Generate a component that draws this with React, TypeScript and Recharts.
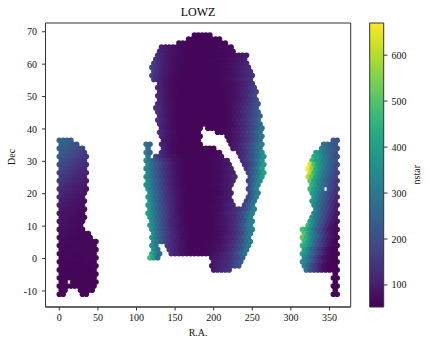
import { Bar, BarChart, ReferenceArea, Scatter, ScatterChart, XAxis, YAxis } from 'recharts'

const FONT = '"Liberation Serif", serif'
const INK = '#111'
const FRAME = '#333'
const RA_STEP = 5

const raTicks = [0, 50, 100, 150, 200, 250, 300, 350]
const decTicks = [-10, 0, 10, 20, 30, 40, 50, 60, 70]
const barTicks = [100, 200, 300, 400, 500, 600]

const decRows = [
  69, 67.75, 66.5, 65.25, 64, 62.75, 61.5, 60.25, 59, 57.75, 56.5, 55.25, 54, 52.75, 51.5, 50.25,
  49, 47.75, 46.5, 45.25, 44, 42.75, 41.5, 40.25, 39, 37.75, 36.5, 35.25, 34, 32.75, 31.5, 30.25,
  29, 27.75, 26.5, 25.25, 24, 22.75, 21.5, 20.25, 19, 17.75, 16.5, 15.25, 14, 12.75, 11.5, 10.25,
  9, 7.75, 6.5, 5.25, 4, 2.75, 1.5, 0.25, -1, -2.25, -3.5, -4.75, -6, -7.25, -8.5, -9.75, -11,
]

// 0 marks a spot with no pixel. Each row starts at decRows[firstRow + row index]
const mainFirstRow = 0
const mainStarts = [
  175, 167.5, 155, 132.5, 130, 127.5, 125, 122.5, 120, 122.5, 120, 122.5, 130, 127.5, 130, 127.5,
  130, 127.5, 125, 127.5, 130, 127.5, 130, 132.5, 130, 132.5, 135, 112.5, 115, 112.5, 115, 112.5,
  115, 112.5, 115, 112.5, 115, 112.5, 115, 117.5, 115, 117.5, 115, 117.5, 115, 117.5, 120, 117.5,
  120, 122.5, 120, 122.5, 120, 122.5, 120, 117.5, 200, 197.5, 200,
]
const mainNstar = [
  [62, 60, 60, 60, 62],
  [64, 62, 60, 60, 60, 60, 60, 62, 64],
  [68, 66, 64, 62, 60, 60, 60, 60, 60, 62, 62, 64, 66],
  [105, 95, 85, 78, 74, 70, 66, 64, 62, 60, 60, 60, 60, 60, 62, 64, 66, 68, 70],
  [120, 105, 92, 84, 78, 72, 68, 64, 62, 60, 60, 60, 60, 62, 62, 64, 66, 68, 72, 74],
  [130, 115, 100, 88, 80, 74, 70, 66, 62, 60, 60, 60, 60, 60, 62, 62, 64, 66, 70, 74, 78, 84, 90, 96],
  [145, 125, 108, 92, 82, 76, 70, 66, 62, 60, 60, 60, 60, 60, 62, 62, 64, 66, 70, 74, 80, 86, 94, 102],
  [165, 140, 118, 100, 88, 78, 72, 68, 64, 60, 60, 60, 60, 60, 62, 62, 64, 66, 68, 72, 78, 84, 92, 100, 110],
  [175, 150, 125, 105, 92, 80, 74, 68, 64, 60, 60, 60, 60, 60, 60, 62, 62, 64, 66, 70, 76, 82, 90, 98, 108, 120],
  [160, 135, 112, 96, 84, 76, 70, 66, 62, 60, 60, 60, 60, 60, 60, 62, 62, 64, 68, 72, 78, 86, 94, 104, 116, 130],
  [170, 145, 120, 102, 88, 78, 72, 66, 62, 60, 60, 60, 60, 60, 60, 60, 62, 62, 64, 68, 72, 80, 88, 98, 110, 124, 140],
  [150, 125, 105, 90, 80, 72, 66, 62, 60, 60, 60, 60, 60, 60, 60, 62, 62, 64, 68, 74, 80, 90, 100, 112, 128, 145],
  [110, 95, 82, 74, 68, 64, 60, 60, 60, 60, 60, 60, 60, 60, 60, 62, 64, 66, 72, 78, 86, 96, 108, 124, 145],
  [120, 102, 88, 78, 70, 64, 60, 60, 60, 60, 60, 60, 60, 60, 60, 60, 62, 64, 68, 74, 82, 92, 104, 120, 140, 165],
  [112, 96, 84, 74, 68, 62, 60, 60, 60, 60, 60, 60, 60, 60, 60, 60, 62, 66, 70, 78, 86, 98, 112, 130, 150, 175],
  [125, 105, 90, 78, 70, 64, 60, 60, 60, 60, 60, 60, 60, 60, 60, 60, 62, 64, 68, 74, 82, 94, 108, 125, 148, 175],
  [115, 98, 84, 74, 68, 62, 60, 60, 60, 60, 60, 60, 60, 60, 60, 60, 62, 66, 70, 78, 88, 100, 116, 135, 160, 190],
  [130, 110, 92, 80, 72, 66, 60, 60, 60, 60, 60, 60, 60, 60, 60, 60, 62, 64, 68, 74, 84, 96, 110, 128, 150, 180, 210],
  [155, 125, 105, 88, 76, 68, 62, 60, 60, 60, 60, 60, 60, 60, 60, 60, 60, 62, 66, 72, 80, 92, 106, 124, 146, 172, 205],
  [140, 115, 96, 82, 72, 66, 60, 60, 60, 60, 60, 60, 60, 60, 60, 60, 62, 64, 68, 76, 86, 98, 114, 134, 158, 190, 225],
  [122, 102, 86, 76, 68, 62, 60, 60, 60, 60, 60, 60, 60, 60, 60, 60, 62, 66, 72, 80, 92, 106, 124, 146, 172, 205, 245],
  [150, 122, 100, 86, 74, 66, 62, 60, 60, 60, 60, 60, 60, 60, 60, 60, 62, 64, 70, 78, 88, 102, 120, 140, 168, 200, 240],
  [128, 106, 90, 78, 70, 64, 60, 60, 60, 60, 60, 60, 60, 60, 60, 60, 62, 66, 72, 80, 94, 110, 128, 152, 182, 218, 262],
  [112, 96, 82, 72, 66, 62, 60, 60, 60, 60, 60, 0, 60, 60, 60, 60, 62, 68, 76, 86, 100, 116, 136, 162, 195, 235, 285],
  [135, 112, 94, 80, 72, 66, 60, 60, 60, 60, 60, 0, 0, 0, 0, 60, 64, 68, 74, 84, 96, 112, 134, 160, 192, 232, 280],
  [118, 100, 86, 74, 68, 62, 60, 60, 60, 60, 60, 0, 0, 0, 0, 0, 0, 68, 76, 88, 102, 120, 142, 170, 204, 248, 300],
  [104, 88, 76, 68, 62, 60, 60, 60, 60, 60, 0, 0, 0, 0, 0, 0, 0, 72, 80, 92, 106, 126, 150, 180, 216, 262],
  [280, 245, 0, 0, 112, 94, 80, 70, 64, 60, 60, 60, 60, 60, 60, 0, 0, 0, 0, 0, 0, 0, 84, 96, 112, 132, 158, 190, 228, 276, 330],
  [265, 0, 0, 0, 108, 90, 78, 70, 64, 60, 60, 60, 60, 60, 60, 60, 60, 62, 0, 0, 0, 0, 88, 100, 118, 140, 170, 205, 250, 305],
  [300, 260, 0, 0, 118, 98, 84, 74, 66, 62, 60, 60, 60, 60, 60, 60, 60, 62, 64, 68, 0, 0, 0, 0, 108, 128, 154, 188, 228, 282, 345],
  [300, 0, 175, 145, 120, 100, 86, 76, 68, 64, 60, 60, 60, 60, 60, 62, 62, 66, 72, 78, 0, 0, 0, 0, 118, 140, 168, 204, 250, 310, 375],
  [330, 285, 240, 195, 160, 132, 108, 90, 78, 70, 64, 60, 60, 60, 60, 60, 62, 64, 68, 74, 82, 92, 0, 0, 0, 132, 158, 192, 240, 300, 370],
  [330, 280, 230, 190, 155, 128, 105, 88, 76, 68, 62, 60, 60, 60, 60, 60, 62, 64, 68, 74, 82, 92, 0, 0, 0, 130, 155, 190, 240, 305, 385],
  [340, 300, 250, 205, 165, 135, 112, 92, 80, 70, 64, 60, 60, 60, 60, 60, 62, 64, 68, 74, 82, 92, 104, 0, 0, 0, 150, 190, 240, 310, 395],
  [335, 285, 235, 195, 160, 130, 108, 90, 78, 68, 62, 60, 60, 60, 60, 60, 62, 64, 68, 74, 82, 92, 106, 0, 0, 0, 168, 210, 265, 335, 410],
  [350, 310, 258, 212, 172, 140, 114, 94, 80, 70, 64, 60, 60, 60, 60, 60, 62, 64, 68, 74, 82, 92, 106, 122, 0, 0, 0, 190, 245, 310, 385],
  [345, 295, 245, 200, 165, 135, 110, 92, 78, 68, 62, 60, 60, 60, 60, 60, 62, 64, 68, 74, 84, 94, 108, 0, 0, 0, 165, 215, 280, 350],
  [360, 320, 265, 218, 176, 142, 116, 96, 82, 72, 64, 60, 60, 60, 60, 60, 62, 64, 68, 74, 84, 94, 106, 0, 0, 0, 0, 205, 270, 335],
  [355, 305, 252, 205, 168, 138, 112, 92, 80, 70, 62, 60, 60, 60, 60, 60, 62, 64, 68, 76, 86, 96, 0, 0, 0, 0, 190, 255, 320],
  [340, 285, 235, 192, 155, 128, 106, 90, 76, 68, 62, 60, 60, 60, 60, 60, 62, 64, 70, 78, 88, 98, 0, 0, 0, 0, 205, 265, 325],
  [375, 320, 265, 215, 175, 142, 116, 96, 82, 70, 64, 60, 60, 60, 60, 60, 62, 66, 70, 78, 90, 102, 0, 0, 0, 0, 180, 245, 310],
  [350, 295, 242, 198, 160, 132, 108, 90, 78, 68, 62, 60, 60, 60, 60, 60, 62, 66, 72, 80, 90, 104, 0, 0, 0, 160, 220, 290],
  [390, 335, 275, 225, 182, 148, 120, 100, 84, 72, 64, 60, 60, 60, 60, 62, 62, 66, 72, 80, 92, 106, 120, 0, 0, 165, 225, 295],
  [365, 305, 250, 205, 165, 135, 110, 92, 78, 68, 62, 60, 60, 60, 60, 62, 64, 68, 74, 82, 94, 108, 124, 140, 165, 205, 260, 320],
  [400, 345, 285, 232, 188, 152, 124, 102, 86, 74, 64, 60, 60, 60, 60, 62, 64, 68, 74, 84, 96, 110, 126, 145, 172, 215, 270, 320],
  [375, 310, 255, 208, 168, 138, 112, 94, 80, 70, 62, 60, 60, 60, 62, 62, 64, 70, 76, 86, 98, 114, 132, 155, 190, 245, 310],
  [350, 285, 232, 188, 152, 124, 104, 88, 74, 66, 60, 60, 60, 60, 62, 64, 66, 72, 80, 90, 104, 120, 140, 170, 215, 275, 325],
  [385, 320, 262, 212, 172, 140, 114, 96, 82, 70, 62, 60, 60, 60, 62, 62, 66, 70, 78, 88, 100, 116, 136, 162, 205, 265, 320],
  [360, 295, 240, 195, 158, 128, 106, 90, 76, 68, 62, 60, 60, 60, 62, 64, 66, 72, 80, 90, 104, 122, 145, 178, 225, 285, 330],
  [340, 278, 225, 182, 148, 122, 102, 86, 74, 66, 60, 60, 60, 62, 62, 64, 68, 76, 84, 96, 110, 128, 152, 190, 250, 310],
  [370, 305, 248, 200, 162, 132, 110, 92, 78, 70, 62, 60, 60, 62, 62, 64, 68, 74, 82, 94, 108, 126, 150, 185, 240, 300],
  [345, 285, 230, 186, 150, 124, 104, 88, 76, 68, 62, 60, 62, 62, 64, 66, 70, 78, 88, 100, 116, 136, 165, 210, 265, 315],
  [365, 305, 0, 0, 155, 135, 112, 94, 80, 72, 64, 62, 62, 62, 64, 66, 70, 76, 86, 98, 114, 134, 160, 200, 255, 305],
  [350, 290, 0, 0, 150, 122, 104, 88, 78, 70, 66, 64, 64, 64, 66, 70, 74, 82, 92, 106, 124, 148, 178, 225, 285],
  [420, 340, 275, 0, 0, 135, 112, 96, 84, 74, 68, 66, 66, 66, 68, 72, 78, 86, 98, 112, 130, 152, 185, 230, 285],
  [470, 390, 270, 0, 0, 0, 0, 0, 0, 0, 0, 0, 0, 0, 0, 0, 84, 92, 100, 110, 122, 140, 165, 195, 235],
  [90, 98, 108, 120, 136, 158, 185, 220],
  [86, 94, 102, 114, 128, 148, 175, 205],
  [92, 100, 112, 126, 145],
]

const leftFirstRow = 26
const leftStarts = [
  0, 2.5, 0, 2.5, 0, 2.5, 0, 2.5, 0, 2.5, 0, 2.5, 0, 2.5, 0, 2.5, 0, 2.5, 0, 2.5,
  0, 2.5, 0, 2.5, 0, 2.5, 0, 2.5, 0, 2.5, 0, 2.5, 0, 2.5, 0, 2.5, 0, 2.5, 0,
]
const leftNstar = [
  [255, 250, 240, 230],
  [245, 240, 230, 220, 205],
  [240, 235, 225, 215, 205, 190, 180],
  [225, 218, 208, 198, 185, 172, 160],
  [222, 215, 205, 195, 182, 170, 158, 148],
  [200, 192, 182, 170, 158, 148, 138],
  [195, 188, 180, 168, 156, 146, 136, 128],
  [178, 170, 160, 150, 140, 130, 122],
  [172, 165, 156, 146, 136, 128, 120, 112],
  [155, 148, 140, 130, 122, 114, 108],
  [150, 144, 136, 128, 120, 112, 106, 100],
  [136, 130, 122, 114, 108, 102, 96],
  [132, 126, 120, 112, 106, 100, 94, 90],
  [118, 114, 108, 102, 96, 92, 88],
  [116, 110, 104, 98, 94, 90, 86],
  [104, 100, 96, 92, 88, 84, 80],
  [102, 98, 94, 90, 86, 82, 78],
  [94, 90, 86, 84, 80, 76, 74],
  [92, 88, 84, 80, 78, 74, 72],
  [86, 84, 80, 76, 74, 72, 70],
  [84, 80, 78, 74, 72, 70, 68],
  [80, 76, 74, 72, 70, 68],
  [78, 76, 74, 72, 70, 68, 66],
  [76, 74, 72, 70, 68, 66, 66, 66],
  [74, 72, 70, 68, 66, 66, 64, 64, 64],
  [72, 70, 68, 66, 66, 64, 64, 64, 64, 66],
  [70, 68, 66, 66, 64, 64, 64, 64, 64, 66],
  [68, 66, 66, 64, 64, 64, 62, 64, 64, 66],
  [68, 66, 64, 64, 64, 62, 62, 64, 64, 64],
  [66, 64, 64, 62, 62, 62, 62, 68, 64, 64],
  [66, 64, 62, 62, 62, 60, 62, 66, 62, 64],
  [64, 62, 62, 60, 60, 60, 60, 60, 62, 62],
  [64, 62, 60, 60, 60, 60, 60, 60, 60, 62],
  [62, 60, 60, 60, 60, 60, 60, 60, 60, 60],
  [62, 60, 60, 60, 60, 60, 60, 60, 60, 60],
  [60, 60, 0, 60, 60, 60, 60, 60, 60, 60],
  [60, 60, 60, 60, 60, 60, 60, 60, 60, 60],
  [60, 60, 0, 0, 0, 60, 60, 60, 60],
  [60, 60, 0, 0, 0, 0, 60, 60],
]

const rightFirstRow = 26
const rightStarts = [
  355, 342.5, 340, 332.5, 330, 327.5, 325, 322.5, 325, 322.5, 325, 327.5, 325, 327.5, 330, 327.5,
  330, 332.5, 330, 327.5, 325, 322.5, 315, 317.5, 315, 317.5, 315, 317.5, 315, 317.5, 315, 317.5,
  320, 357.5, 355, 357.5, 355, 357.5, 355,
]
const rightNstar = [
  [220, 205],
  [300, 265, 235, 210],
  [320, 285, 250, 225, 200],
  [400, 360, 310, 270, 240, 210],
  [440, 395, 345, 300, 260, 225, 195],
  [480, 420, 370, 320, 275, 235, 205],
  [640, 490, 410, 350, 300, 255, 220, 185],
  [670, 560, 440, 375, 320, 270, 230, 195],
  [610, 470, 390, 330, 280, 240, 205, 170],
  [600, 510, 410, 350, 295, 250, 210, 175],
  [520, 420, 360, 300, 255, 215, 180, 150],
  [450, 380, 320, 270, 230, 190, 155],
  [470, 400, 340, 285, 0, 205, 170, 135],
  [410, 350, 295, 245, 205, 170, 135],
  [380, 315, 265, 220, 180, 145, 115],
  [390, 330, 275, 230, 190, 150, 118],
  [350, 295, 245, 200, 160, 125, 100],
  [320, 265, 215, 175, 135, 105],
  [340, 280, 230, 185, 145, 110, 90],
  [370, 300, 245, 195, 150, 115, 88],
  [410, 330, 265, 210, 165, 125, 95, 78],
  [450, 360, 285, 225, 175, 130, 95, 75],
  [490, 440, 360, 285, 225, 175, 130, 95, 75, 68],
  [500, 420, 340, 270, 210, 160, 118, 85, 68],
  [520, 450, 375, 300, 240, 185, 140, 102, 78, 64],
  [470, 395, 315, 250, 195, 145, 105, 78, 62],
  [460, 420, 345, 275, 215, 165, 120, 88, 68, 60],
  [400, 330, 265, 205, 155, 112, 82, 64, 60],
  [400, 365, 300, 235, 180, 135, 98, 74, 62, 60],
  [345, 285, 225, 172, 128, 92, 70, 62, 60],
  [345, 320, 260, 200, 155, 115, 84, 66, 60, 60],
  [310, 250, 195, 148, 110, 80, 66, 60, 60],
  [290, 220, 170, 130, 95, 72, 62, 60, 60],
  [60],
  [60, 60],
  [60],
  [60, 60],
  [60],
  [60, 60],
]

const viridis = [
  '#440154', '#482475', '#414487', '#355f8d', '#2a788e', '#21918c',
  '#22a884', '#44bf70', '#7ad151', '#bddf26', '#fde725',
]
const NSTAR_MIN = 52
const NSTAR_MAX = 670

function toRgb(hex: string) {
  return [1, 3, 5].map((i) => parseInt(hex.slice(i, i + 2), 16))
}

function nstarColor(v: number) {
  const t = Math.min(1, Math.max(0, (v - NSTAR_MIN) / (NSTAR_MAX - NSTAR_MIN))) * (viridis.length - 1)
  const i = Math.min(viridis.length - 2, Math.floor(t))
  const a = toRgb(viridis[i])
  const b = toRgb(viridis[i + 1])
  const c = a.map((x, j) => Math.round(x + (b[j] - x) * (t - i)))
  return `rgb(${c.join(',')})`
}

function patchPoints(firstRow: number, starts: number[], rows: number[][]) {
  return rows.flatMap((row, r) =>
    row.flatMap((nstar, i) =>
      nstar === 0 ? [] : [{ ra: starts[r] + i * RA_STEP, dec: decRows[firstRow + r], nstar }],
    ),
  )
}

const points = [
  ...patchPoints(leftFirstRow, leftStarts, leftNstar),
  ...patchPoints(mainFirstRow, mainStarts, mainNstar),
  ...patchPoints(rightFirstRow, rightStarts, rightNstar),
]

const barData = [{ name: 'nstar', span: [NSTAR_MIN, NSTAR_MAX] }]

function Pixel(props: any) {
  return <circle cx={props.cx} cy={props.cy} r={2.8} fill={nstarColor(props.payload.nstar)} />
}

const tickStyle = { fill: INK, fontSize: 10, fontFamily: FONT }
const labelStyle = { fill: INK, fontSize: 10, fontFamily: FONT }

export default function App() {
  return (
    <div style={{ position: 'absolute', left: 0, top: 0, width: 429, height: 346, background: '#fff' }}>
      <div
        style={{
          position: 'absolute',
          left: 45.5,
          width: 305,
          top: 5,
          textAlign: 'center',
          font: `12px ${FONT}`,
          color: '#000',
        }}
      >
        LOWZ
      </div>
      <div style={{ position: 'absolute', left: 0, top: 0 }}>
        <ScatterChart width={429} height={346} margin={{ top: 23, right: 78.3, bottom: 0, left: 0 }}>
          <XAxis
            type="number"
            dataKey="ra"
            domain={[-17.9, 377.5]}
            ticks={raTicks}
            interval={0}
            height={39}
            tick={tickStyle}
            tickSize={3.5}
            tickMargin={3}
            stroke={FRAME}
            label={{ value: 'R.A.', position: 'insideBottom', offset: 10, style: labelStyle }}
          />
          <YAxis
            type="number"
            dataKey="dec"
            domain={[-14.95, 72.7]}
            ticks={decTicks}
            interval={0}
            width={45.5}
            tick={tickStyle}
            tickSize={3.5}
            tickMargin={5}
            stroke={FRAME}
            label={{ value: 'Dec', angle: -90, position: 'insideLeft', offset: 11, style: labelStyle }}
          />
          <Scatter data={points} isAnimationActive={false} shape={Pixel} />
          <ReferenceArea x1={-17.9} x2={377.5} y1={-14.95} y2={72.7} fill="none" stroke={FRAME} strokeWidth={1} />
        </ScatterChart>
      </div>
      <div style={{ position: 'absolute', left: 0, top: 0 }}>
        <BarChart
          width={429}
          height={346}
          data={barData}
          barCategoryGap={0}
          margin={{ top: 23, right: 0, bottom: 39, left: 369.7 }}
        >
          <defs>
            <linearGradient id="viridisBar" x1="0" y1="1" x2="0" y2="0">
              {viridis.map((c, i) => (
                <stop key={c} offset={i / (viridis.length - 1)} stopColor={c} />
              ))}
            </linearGradient>
          </defs>
          <XAxis dataKey="name" hide />
          <YAxis
            orientation="right"
            domain={[NSTAR_MIN, NSTAR_MAX]}
            ticks={barTicks}
            interval={0}
            width={45}
            tick={tickStyle}
            tickSize={3.5}
            tickMargin={4}
            stroke={FRAME}
            axisLine={false}
            label={{ value: 'nstar', angle: -90, position: 'insideRight', offset: 13, style: labelStyle }}
          />
          <Bar dataKey="span" fill="url(#viridisBar)" stroke={FRAME} strokeWidth={1} isAnimationActive={false} />
        </BarChart>
      </div>
    </div>
  )
}
